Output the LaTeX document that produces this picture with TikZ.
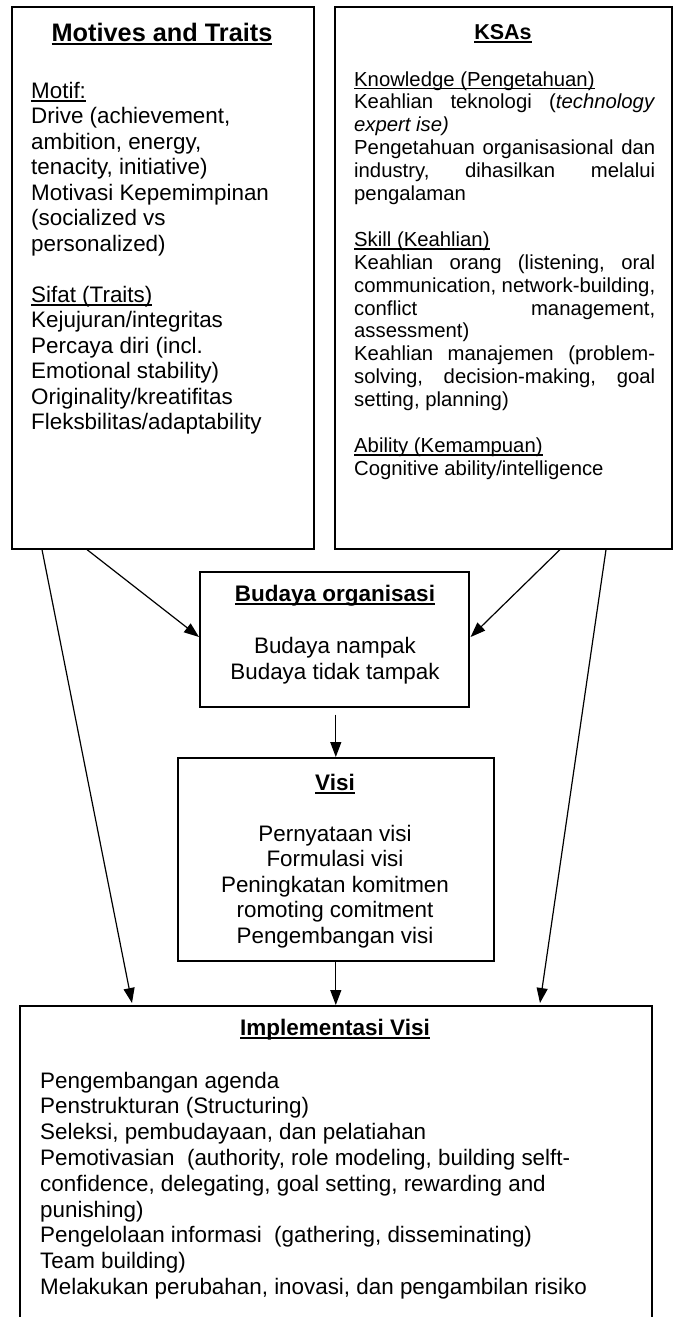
\documentclass[tikz,border=0pt]{standalone}
\usepackage{fontspec}
\setmainfont{Liberation Sans}
\usetikzlibrary{arrows.meta,calc}
\newcommand{\ulx}[1]{\leavevmode\setbox0\hbox{#1}\rlap{\rule[-0.16em]{\wd0}{0.07em}}\box0}
\newcommand{\ulb}[1]{\leavevmode\setbox0\hbox{#1}\rlap{\rule[-0.17em]{\wd0}{0.09em}}\box0}
\newcommand{\LLn}[1]{\hbox{#1}}
\newcommand{\CLn}[1]{\hbox to\linewidth{\hfil#1\hfil}}
\newcommand{\JLn}[1]{\hbox to\linewidth{#1}}
\begin{document}
\begin{tikzpicture}[x=1pt,y=-1pt,
  box/.style={draw, line width=1.6pt, inner sep=0pt, anchor=north west},
  txt/.style={inner sep=0pt},
  arr/.style={line width=1.2pt, -{Triangle[length=15pt,width=11pt]}},
  titlefont/.style={font=\fontsize{22.5pt}{26pt}\selectfont\bfseries}
]
\useasboundingbox (0,0) rectangle (673,1317);
\clip (0,0) rectangle (673,1317);
\fill[white] (0,0) rectangle (673,1317);

% boxes
\node[box, minimum width=302pt, minimum height=542pt] (mt) at (11,6) {};
\node[box, minimum width=337pt, minimum height=542pt] (ksa) at (334,6) {};
\node[box, minimum width=269pt, minimum height=135pt] (bud) at (199,571) {};
\node[box, minimum width=316pt, minimum height=203pt] (vis) at (177,757) {};
\node[box, minimum width=632pt, minimum height=340pt] (imp) at (19,1005) {};

% Motives and Traits
\node[txt, anchor=base, font=\fontsize{25.3pt}{30pt}\selectfont\bfseries] (mttitle) at (162,41) {\ulb{Motives and Traits}};
\node[txt, anchor=base west] (mtbody) at (31,98) {\parbox[t]{280pt}{\fontsize{22.4pt}{25.5pt}\selectfont
\LLn{\ulx{Motif:}}
\LLn{Drive (achievement,}
\LLn{ambition, energy,}
\LLn{tenacity, initiative)}
\LLn{Motivasi Kepemimpinan}
\LLn{(socialized vs}
\LLn{personalized)}
\vskip 25.5pt
\LLn{\ulx{Sifat (Traits)}}
\LLn{Kejujuran/integritas}
\LLn{Percaya diri (incl.}
\LLn{Emotional stability)}
\LLn{Originality/kreatifitas}
\LLn{Fleksbilitas/adaptability}}};

% KSAs
\node[txt, anchor=base, font=\fontsize{21.5pt}{25pt}\selectfont\bfseries] (ksatitle) at (503,39) {\ulb{KSAs}};
\node[txt, anchor=base west] (ksabody) at (354,86) {\parbox[t]{301pt}{\fontsize{20.3pt}{22.9pt}\selectfont
\LLn{\ulx{Knowledge (Pengetahuan)}}
\JLn{Keahlian\hfill teknologi\hfill (\textit{technology}}
\LLn{\textit{expert ise)}}
\JLn{Pengetahuan\hfill organisasional\hfill dan}
\JLn{industry,\hfill dihasilkan\hfill melalui}
\LLn{pengalaman}
\vskip 22.9pt
\LLn{\ulx{Skill (Keahlian)}}
\JLn{Keahlian\hfill orang\hfill (listening,\hfill oral}
\JLn{communication,\hfill network-building,}
\JLn{conflict\hfill management,}
\LLn{assessment)}
\JLn{Keahlian\hfill manajemen\hfill (problem-}
\JLn{solving,\hfill decision-making,\hfill goal}
\LLn{setting, planning)}
\vskip 22.9pt
\LLn{\ulx{Ability (Kemampuan)}}
\LLn{Cognitive ability/intelligence}}};

% Budaya organisasi
\node[txt, anchor=base, titlefont] (budtitle) at (335,601) {\ulb{Budaya organisasi}};
\node[txt, anchor=base] (budbody) at (335,653) {\parbox[t]{260pt}{\fontsize{22.4pt}{26pt}\selectfont
\CLn{Budaya nampak}
\CLn{Budaya tidak tampak}}};

% Visi
\node[txt, anchor=base, titlefont] (vistitle) at (335,790) {\ulb{Visi}};
\node[txt, anchor=base] (visbody) at (335,841) {\parbox[t]{300pt}{\fontsize{22.4pt}{25.5pt}\selectfont
\CLn{Pernyataan visi}
\CLn{Formulasi visi}
\CLn{Peningkatan komitmen}
\CLn{romoting comitment}
\CLn{Pengembangan visi}}};

% Implementasi Visi
\node[txt, anchor=base, titlefont] (imptitle) at (335,1035) {\ulb{Implementasi Visi}};
\node[txt, anchor=base west] (impbody) at (40,1088) {\parbox[t]{600pt}{\fontsize{22.4pt}{25.8pt}\selectfont
\LLn{Pengembangan agenda}
\LLn{Penstrukturan (Structuring)}
\LLn{Seleksi, pembudayaan, dan pelatiahan}
\LLn{Pemotivasian\ \ (authority, role modeling, building selft-}
\LLn{confidence, delegating, goal setting, rewarding and}
\LLn{punishing)}
\LLn{Pengelolaan informasi\ \ (gathering, disseminating)}
\LLn{Team building)}
\LLn{Melakukan perubahan, inovasi, dan pengambilan risiko}}};

% connectors
\draw[arr] ($(mt.south west)+(76,0)$) -- ($(bud.north west)+(0,66)$);
\draw[arr] ($(mt.south west)+(31,0)$) -- ($(imp.north west)+(113,-2)$);
\draw[arr] ($(ksa.south west)+(226,0)$) -- ($(bud.north east)+(1,66)$);
\draw[arr] ($(ksa.south west)+(272,0)$) -- ($(imp.north west)+(521,-2)$);
\draw[arr] ($(vis.north |- bud.south)+(0,7)$) -- (vis.north);
\draw[arr] (vis.south) -- (vis.south |- imp.north);
\end{tikzpicture}
\end{document}
